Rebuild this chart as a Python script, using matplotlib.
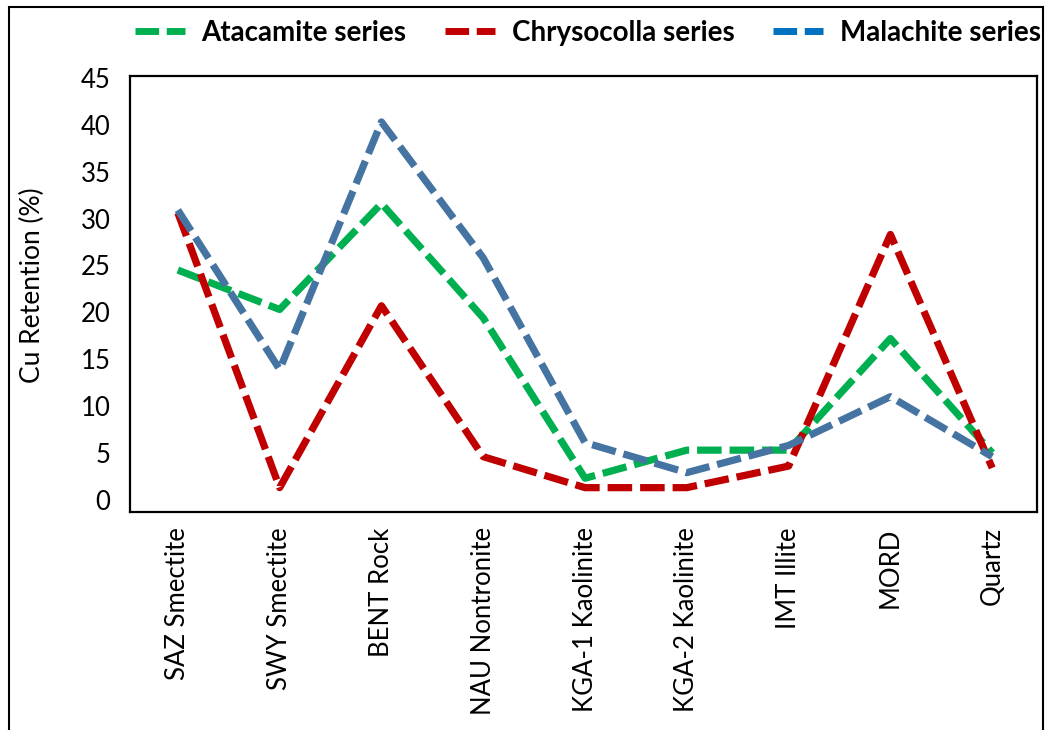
import matplotlib
matplotlib.use('Agg')
import matplotlib.pyplot as plt
from matplotlib.lines import Line2D
from matplotlib.patches import Rectangle

# Data
minerals = ['SAZ Smectite', 'SWY Smectite', 'BENT Rock', 'NAU Nontronite',
            'KGA-1 Kaolinite', 'KGA-2 Kaolinite', 'IMT Illite', 'MORD', 'Quartz']
atacamite = [24.5, 20.3, 31.6, 19.4, 2.3, 5.3, 5.3, 17.2, 5.0]
chrysocolla = [30.6, 1.3, 20.7, 4.6, 1.3, 1.3, 3.6, 28.3, 3.4]
malachite = [30.9, 13.9, 40.3, 25.8, 6.1, 2.9, 5.8, 11.0, 4.6]
yticks = [0, 5, 10, 15, 20, 25, 30, 35, 40, 45]

green = '#00B050'
red = '#C00000'
steel = '#4674A2'
blue_legend = '#0070C0'
dash = (0, (3.4, 1.1))

plt.rcParams['font.family'] = ['Lato', 'DejaVu Sans']

fig = plt.figure(figsize=(10.46, 7.3), dpi=100)
ax = fig.add_axes([0.1243, 0.2986, 0.8671, 0.5973])

x = list(range(len(minerals)))
ax.plot(x, atacamite, color=green, lw=5.2, linestyle=dash)
ax.plot(x, chrysocolla, color=red, lw=5.2, linestyle=dash)
ax.plot(x, malachite, color=steel, lw=5.2, linestyle=dash)

ax.set_xlim(-0.47, 8.44)
ax.set_ylim(-1.3, 45.2)
ax.set_yticks(yticks)
ax.set_yticklabels([str(v) for v in yticks], fontsize=18.5)
ax.set_xticks(x)
ax.set_xticklabels(minerals, rotation=90, fontsize=18.5)
ax.tick_params(axis='y', length=0, pad=14)
ax.tick_params(axis='x', length=0, pad=11)
for s in ax.spines.values():
    s.set_linewidth(1.6)
    s.set_color('black')

ax.set_ylabel('Cu Retention (%)', fontsize=19)
ax.yaxis.set_label_coords(-0.094, 0.52)

handles = [Line2D([0], [0], color=green, lw=5, linestyle=dash),
           Line2D([0], [0], color=red, lw=5, linestyle=dash),
           Line2D([0], [0], color=blue_legend, lw=5, linestyle=dash)]
labels = ['Atacamite series', 'Chrysocolla series', 'Malachite series']
fig.legend(handles, labels, loc='center', bbox_to_anchor=(0.562, 0.955), ncol=3,
           frameon=False, handlelength=1.8, handletextpad=0.6, columnspacing=1.4,
           prop={'weight': 'bold', 'size': 20})

# Border around the whole figure
fig.patches.append(Rectangle((9 / 1046, -0.1), 1034 / 1046, 1.1 - 7 / 730,
                             transform=fig.transFigure, fill=False,
                             edgecolor='black', lw=1.5))

fig.savefig('out.png', dpi=100)
